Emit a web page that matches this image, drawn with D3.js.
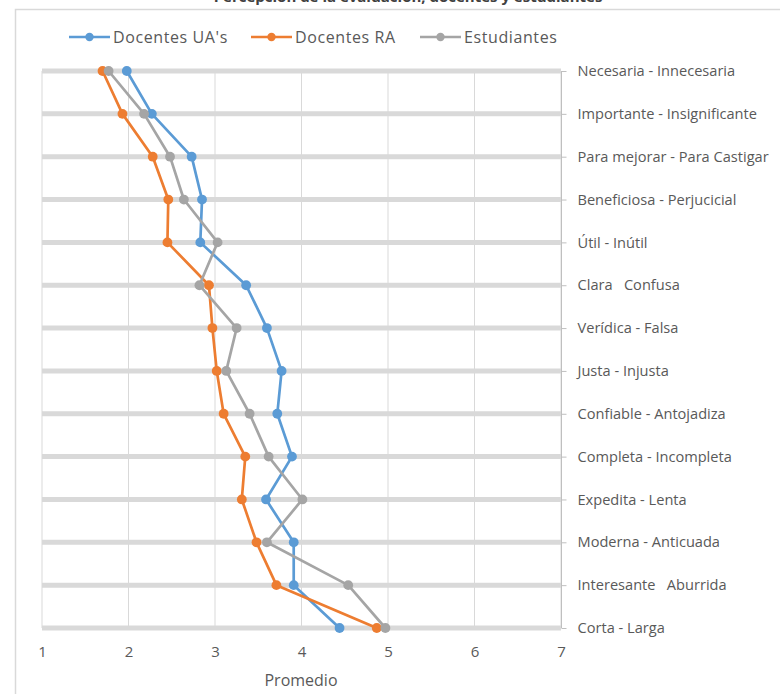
<!DOCTYPE html>
<html lang="es">
<head>
<meta charset="utf-8">
<script src="https://cdn.jsdelivr.net/npm/d3@7"></script>
<style>
  html, body { margin: 0; padding: 0; background: #fff; }
  svg { display: block; }
  text { font-family: "Open Sans", "Noto Sans", sans-serif; }
</style>
</head>
<body>
<svg id="chart" width="780" height="694"></svg>
<script>
// Semantic-differential pairs, top to bottom
const categories = [
  "Necesaria - Innecesaria",
  "Importante - Insignificante",
  "Para mejorar - Para Castigar",
  "Beneficiosa - Perjucicial",
  "Útil - Inútil",
  "Clara   Confusa",
  "Verídica - Falsa",
  "Justa - Injusta",
  "Confiable - Antojadiza",
  "Completa - Incompleta",
  "Expedita - Lenta",
  "Moderna - Anticuada",
  "Interesante   Aburrida",
  "Corta - Larga"
];

const seriesNames = ["Docentes UA's", "Docentes RA", "Estudiantes"];

// Mean score per pair for each group
const docentesUA = [1.98, 2.27, 2.73, 2.85, 2.83, 3.36, 3.60, 3.77, 3.72, 3.89, 3.59, 3.91, 3.91, 4.44];
const docentesRA = [1.70, 1.93, 2.28, 2.46, 2.45, 2.93, 2.97, 3.02, 3.10, 3.35, 3.31, 3.48, 3.71, 4.87];
const estudiantes = [1.77, 2.18, 2.48, 2.64, 3.03, 2.82, 3.25, 3.13, 3.40, 3.62, 4.01, 3.60, 4.54, 4.97];

const xTicks = [1, 2, 3, 4, 5, 6, 7];
const xTitle = "Promedio";
const chartTitle = "Percepción de la evaluación, docentes y estudiantes";

const colors = ["#5b9bd5", "#ed7d31", "#a5a5a5"];
const seriesValues = [docentesUA, docentesRA, estudiantes];

const svg = d3.select("#chart");

// Outer chart frame
svg.append("rect")
  .attr("x", 15.5).attr("y", 9.5)
  .attr("width", 900).attr("height", 800)
  .attr("fill", "none")
  .attr("stroke", "#d9d9d9")
  .attr("stroke-width", 1.5);

// Title, sitting above the frame
svg.append("text")
  .attr("x", 408).attr("y", 2)
  .attr("text-anchor", "middle")
  .attr("font-size", 15)
  .attr("font-weight", "bold")
  .attr("fill", "#404040")
  .text(chartTitle);

const x = d3.scaleLinear().domain([1, 7]).range([42, 561]);
const y = d3.scalePoint().domain(categories).range([71, 628]).padding(0);

// Vertical gridlines
svg.append("g")
  .selectAll("line")
  .data(xTicks)
  .join("line")
  .attr("x1", d => x(d)).attr("x2", d => x(d))
  .attr("y1", y(categories[0])).attr("y2", y(categories[categories.length - 1]))
  .attr("stroke", "#d9d9d9")
  .attr("stroke-width", 1);

// Thick horizontal bands at each pair
svg.append("g")
  .selectAll("line")
  .data(categories)
  .join("line")
  .attr("x1", x(1)).attr("x2", x(7))
  .attr("y1", d => y(d)).attr("y2", d => y(d))
  .attr("stroke", "#d9d9d9")
  .attr("stroke-width", 5);

// Right category axis
const yAxis = svg.append("g")
  .attr("transform", `translate(${x(7) + 0.5},0)`)
  .call(d3.axisRight(y).tickSize(5).tickPadding(11));
yAxis.select(".domain").attr("stroke", "#bfbfbf").attr("d", `M0,${y(categories[0])}V${y(categories[categories.length - 1])}`);
yAxis.selectAll(".tick line").attr("stroke", "#bfbfbf");
yAxis.selectAll(".tick text")
  .attr("fill", "#595959")
  .attr("font-size", 14.6)
  .style("white-space", "pre")
  .style("font-family", "'Open Sans', sans-serif");

// Bottom value axis (labels only)
const xAxis = svg.append("g")
  .attr("transform", `translate(0,${y(categories[categories.length - 1])})`)
  .call(d3.axisBottom(x).tickValues(xTicks).tickFormat(d3.format("d")).tickSize(0).tickPadding(18));
xAxis.select(".domain").remove();
xAxis.selectAll(".tick text")
  .attr("fill", "#595959")
  .attr("font-size", 15)
  .style("font-family", "'Open Sans', sans-serif");

svg.append("text")
  .attr("x", 301).attr("y", 686)
  .attr("text-anchor", "middle")
  .attr("font-size", 16)
  .attr("fill", "#595959")
  .text(xTitle);

// Series lines and markers
const line = d3.line()
  .x(d => x(d.v))
  .y(d => y(d.c));

seriesValues.forEach((vals, i) => {
  const pts = vals.map((v, j) => ({ c: categories[j], v }));
  const g = svg.append("g");
  g.append("path")
    .datum(pts)
    .attr("d", line)
    .attr("fill", "none")
    .attr("stroke", colors[i])
    .attr("stroke-width", 2.7)
    .attr("stroke-linejoin", "round");
  g.selectAll("circle")
    .data(pts)
    .join("circle")
    .attr("cx", d => x(d.v))
    .attr("cy", d => y(d.c))
    .attr("r", 4.9)
    .attr("fill", colors[i]);
});

// Legend
const legendItems = [
  { name: seriesNames[0], x0: 69 },
  { name: seriesNames[1], x0: 251 },
  { name: seriesNames[2], x0: 420 }
];
const legend = svg.append("g");
legendItems.forEach((it, i) => {
  const g = legend.append("g").attr("transform", `translate(${it.x0},37)`);
  g.append("line")
    .attr("x1", 0).attr("x2", 41)
    .attr("y1", 0).attr("y2", 0)
    .attr("stroke", colors[i])
    .attr("stroke-width", 2.5);
  g.append("circle")
    .attr("cx", 20.5).attr("cy", 0).attr("r", 4.2)
    .attr("fill", colors[i]);
  g.append("text")
    .attr("x", 44).attr("y", 0)
    .attr("dy", "0.35em")
    .attr("font-size", 16)
    .attr("letter-spacing", 0.6)
    .attr("fill", "#595959")
    .text(it.name);
});
</script>
</body>
</html>
